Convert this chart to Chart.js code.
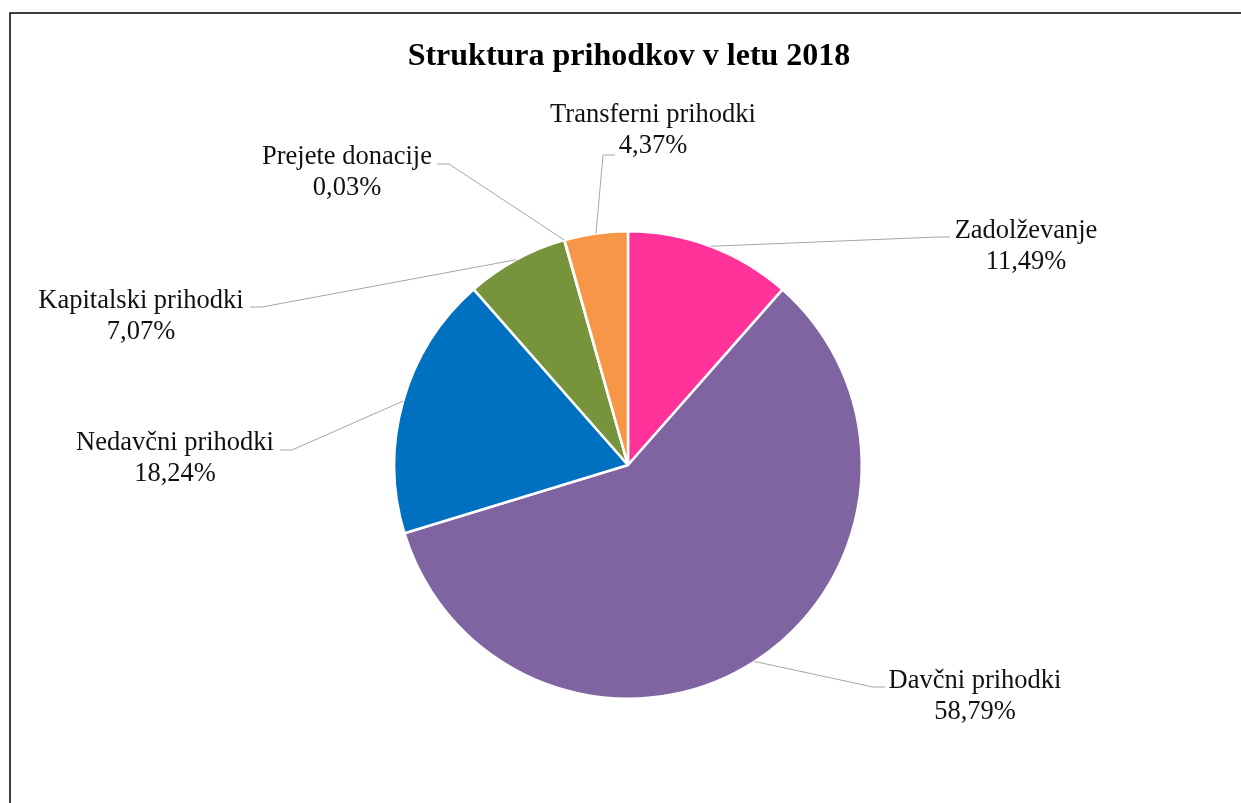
<!DOCTYPE html>
<html>
<head>
<meta charset="utf-8">
<script src="https://cdn.jsdelivr.net/npm/chart.js@4.4.1/dist/chart.umd.min.js"></script>
<style>
    html, body { margin: 0; padding: 0; background: #fff; }
    #wrap { width: 1241px; height: 803px; position: relative; }
</style>
</head>
<body>
<div id="wrap"><canvas id="pieChart" width="1241" height="803"></canvas></div>
<script>
// Data
const categories = ['Zadolževanje', 'Davčni prihodki', 'Nedavčni prihodki', 'Kapitalski prihodki', 'Prejete donacije', 'Transferni prihodki'];
const shares = [11.49, 58.79, 18.24, 7.07, 0.03, 4.37];
const shareLabels = ['11,49%', '58,79%', '18,24%', '7,07%', '0,03%', '4,37%'];
const sliceColors = ['#FF3399', '#8064A2', '#0070C0', '#77933C', '#4BACC6', '#F79646'];

const chartTitle = 'Struktura prihodkov v letu 2018';

// label placement (text centre, leader end next to the text, direction of the elbow)
const labelLayout = [
    { x: 1026, y: 231, ex: 950, ey: 237, dir: -1 },
    { x: 975, y: 681, ex: 885, ey: 687, dir: -1 },
    { x: 175, y: 443, ex: 280, ey: 450, dir: 1 },
    { x: 141, y: 301, ex: 250, ey: 307, dir: 1 },
    { x: 347, y: 157, ex: 437, ey: 164, dir: 1 },
    { x: 653, y: 115, ex: 615, ey: 155, dir: -1 }
];

const labelFont = '26.5px "Liberation Serif", "Times New Roman", serif';
const lineGap = 31;

// Labels + leader lines + frame + title
const pieLabelsPlugin = {
    id: 'pieLabels',
    beforeDraw(chart) {
        const ctx = chart.ctx;
        ctx.save();
        ctx.fillStyle = '#fff';
        ctx.fillRect(0, 0, chart.width, chart.height);
        ctx.strokeStyle = '#000';
        ctx.lineWidth = 1.5;
        ctx.beginPath();
        ctx.moveTo(10, chart.height + 5);
        ctx.lineTo(10, 13);
        ctx.lineTo(chart.width + 5, 13);
        ctx.stroke();

        ctx.fillStyle = '#000';
        ctx.font = 'bold 32px "Liberation Serif", "Times New Roman", serif';
        ctx.textAlign = 'center';
        ctx.textBaseline = 'middle';
        ctx.fillText(chartTitle, 629, 57);
        ctx.restore();
    },
    afterDatasetsDraw(chart) {
        const ctx = chart.ctx;
        const meta = chart.getDatasetMeta(0);
        ctx.save();
        meta.data.forEach((arc, i) => {
            const p = arc.getProps(['x', 'y', 'startAngle', 'endAngle', 'outerRadius'], true);
            const mid = (p.startAngle + p.endAngle) / 2;
            const ax = p.x + Math.cos(mid) * p.outerRadius;
            const ay = p.y + Math.sin(mid) * p.outerRadius;
            const l = labelLayout[i];

            ctx.strokeStyle = '#A6A6A6';
            ctx.lineWidth = 1;
            ctx.beginPath();
            ctx.moveTo(ax, ay);
            ctx.lineTo(l.ex + l.dir * 12, l.ey);
            ctx.lineTo(l.ex, l.ey);
            ctx.stroke();

            ctx.fillStyle = '#111';
            ctx.font = labelFont;
            ctx.textAlign = 'center';
            ctx.textBaseline = 'middle';
            ctx.fillText(categories[i], l.x, l.y);
            ctx.fillText(shareLabels[i], l.x, l.y + lineGap);
        });
        ctx.restore();
    }
};

const pieChart = new Chart(document.getElementById('pieChart'), {
    type: 'pie',
    data: {
        labels: categories,
        datasets: [{
            data: shares,
            backgroundColor: sliceColors,
            borderColor: '#ffffff',
            borderWidth: 2.5
        }]
    },
    options: {
        responsive: false,
        animation: false,
        layout: {
            padding: { top: 230, bottom: 103, left: 393, right: 378 }
        },
        plugins: {
            legend: { display: false },
            tooltip: { enabled: false },
            title: { display: false }
        }
    },
    plugins: [pieLabelsPlugin]
});
</script>
</body>
</html>
